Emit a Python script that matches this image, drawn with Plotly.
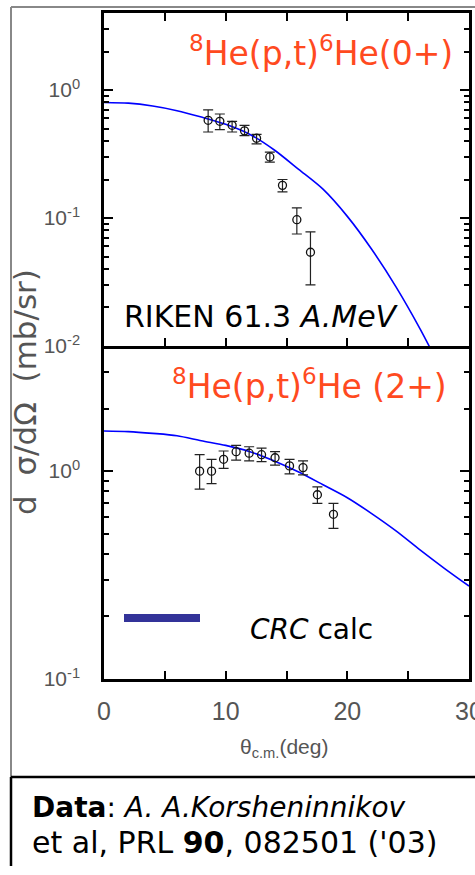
import plotly.graph_objects as go
import math

# ---------------- data ----------------
theta_0p = [8.56, 9.52, 10.53, 11.55, 12.54, 13.63, 14.67, 15.85, 16.97]
xs_0p = [0.58, 0.57, 0.53, 0.48, 0.42, 0.30, 0.18, 0.097, 0.054]
errp_0p = [0.12, 0.08, 0.04, 0.05, 0.03, 0.027, 0.02, 0.023, 0.024]
errm_0p = [0.11, 0.08, 0.06, 0.04, 0.04, 0.027, 0.02, 0.022, 0.024]

theta_2p = [7.86, 8.84, 9.83, 10.86, 11.93, 12.95, 14.06, 15.25, 16.36, 17.54, 18.86]
xs_2p = [1.00, 1.00, 1.14, 1.24, 1.22, 1.20, 1.16, 1.06, 1.04, 0.77, 0.62]
errp_2p = [0.20, 0.14, 0.11, 0.09, 0.09, 0.09, 0.08, 0.08, 0.08, 0.07, 0.08]
errm_2p = [0.18, 0.13, 0.11, 0.11, 0.10, 0.09, 0.09, 0.09, 0.08, 0.07, 0.09]

theta_calc = [0, 2, 4, 6, 8, 10, 12, 14, 16, 18, 20, 22, 24, 26, 28, 30]
calc_0p = [0.80, 0.79, 0.75, 0.69, 0.615, 0.54, 0.45, 0.34, 0.24, 0.168, 0.103,
           0.057, 0.029, 0.0135, 0.0058, 0.0025]
calc_2p = [1.56, 1.55, 1.52, 1.48, 1.40, 1.33, 1.24, 1.12, 0.99, 0.86, 0.745,
           0.625, 0.516, 0.417, 0.34, 0.28]

x_tickvals = [0, 5, 10, 15, 20, 25, 30]
x_ticktext = ["0", "", "10", "", "20", "", "30"]

W, H = 475, 875
def px(x):
    return x / W
def py(y):
    return 1 - y / H

ORANGE = "#FF4A1F"
BLUE = "#0000FF"

fig = go.Figure()

# top panel
fig.add_trace(go.Scatter(x=theta_calc, y=calc_0p, mode="lines",
                         line=dict(color=BLUE, width=1.6, shape="spline", smoothing=0.8),
                         xaxis="x", yaxis="y", showlegend=False))
fig.add_trace(go.Scatter(x=theta_0p, y=xs_0p, mode="markers",
                         marker=dict(symbol="circle-open", size=8, color="#111",
                                     line=dict(width=1.3)),
                         error_y=dict(type="data", symmetric=False, array=errp_0p,
                                      arrayminus=errm_0p, color="#222", thickness=1.2, width=5),
                         xaxis="x", yaxis="y", showlegend=False))
# bottom panel
fig.add_trace(go.Scatter(x=theta_calc, y=calc_2p, mode="lines",
                         line=dict(color=BLUE, width=1.6, shape="spline", smoothing=0.8),
                         xaxis="x2", yaxis="y2", showlegend=False))
fig.add_trace(go.Scatter(x=theta_2p, y=xs_2p, mode="markers",
                         marker=dict(symbol="circle-open", size=8, color="#111",
                                     line=dict(width=1.3)),
                         error_y=dict(type="data", symmetric=False, array=errp_2p,
                                      arrayminus=errm_2p, color="#222", thickness=1.2, width=5),
                         xaxis="x2", yaxis="y2", showlegend=False))

narrow = "Liberation Sans Narrow, Arial Narrow, Liberation Sans, Arial"
tick_font = dict(family=narrow, size=21, color="#555")

def minor_vals(lo, hi):
    vals = []
    for d in range(lo, hi + 1):
        for m in range(2, 10):
            v = m * 10 ** d
            if v < 4.05:
                vals.append(v)
    return vals

xdom = [px(104), px(469)]
common_x = dict(range=[0, 30], domain=xdom, showline=True, linecolor="black", linewidth=2.5,
                ticks="inside", ticklen=8, tickwidth=2, tickcolor="black",
                tickvals=x_tickvals, ticktext=x_ticktext, showgrid=False, zeroline=False,
                ticklabeloverflow="allow", automargin=False,
                tickfont=dict(family=narrow, size=25, color="#555"))
common_y = dict(type="log", showline=True, linecolor="black", linewidth=2.5, mirror="ticks",
                ticks="inside", ticklen=9, tickwidth=2, tickcolor="black", showgrid=False,
                zeroline=False, tickfont=tick_font, ticklabelstandoff=17, automargin=False)

fig.update_layout(
    width=W, height=H, margin=dict(l=0, r=0, t=0, b=0, autoexpand=False),
    paper_bgcolor="white", plot_bgcolor="white",
    xaxis=dict(common_x, anchor="y", showticklabels=False, mirror="ticks"),
    yaxis=dict(common_y, anchor="x", domain=[py(346), py(13)], range=[-2, math.log10(4)],
               tickvals=[0.01, 0.1, 1],
               ticktext=["10<sup>-2</sup>", "10<sup>-1</sup>", "10<sup>0</sup>"],
               minor=dict(tickvals=minor_vals(-2, 0), ticks="inside", ticklen=5,
                          tickwidth=1.5, tickcolor="black", showgrid=False)),
    xaxis2=dict(common_x, anchor="y2", ticklabelstandoff=8, mirror=False),
    yaxis2=dict(common_y, anchor="x2", domain=[py(679), py(346)], range=[-1, math.log10(4)],
                tickvals=[0.1, 1],
                ticktext=["10<sup>-1</sup>", "10<sup>0</sup>"],
                minor=dict(tickvals=minor_vals(-1, 0), ticks="inside", ticklen=5,
                           tickwidth=1.5, tickcolor="black", showgrid=False)),
)

txt_font = "DejaVu Sans, Noto Sans, sans-serif"
ann = [
    dict(text="<sup>8</sup>He(p,t)<sup>6</sup>He(0+)", x=px(455), y=py(52), xanchor="right",
         yanchor="middle", font=dict(family=txt_font, size=33, color=ORANGE)),
    dict(text="RIKEN 61.3 <i>A.MeV</i>", x=px(261), y=py(316), xanchor="center",
         yanchor="middle", font=dict(family=txt_font, size=30, color="black")),
    dict(text="<sup>8</sup>He(p,t)<sup>6</sup>He (2+)", x=px(449), y=py(384), xanchor="right",
         yanchor="middle", font=dict(family=txt_font, size=33, color=ORANGE)),
    dict(text="<i>CRC</i> calc", x=px(248), y=py(629), xanchor="left",
         yanchor="middle", font=dict(family=txt_font, size=28, color="black")),
    dict(text="θ<sub>c.m.</sub>(deg)", x=px(284), y=py(748), xanchor="center",
         yanchor="middle", font=dict(family="Liberation Sans, Arial", size=21, color="#555")),
    dict(text="d  σ/dΩ  (mb/sr)", x=px(25), y=py(392), xanchor="center", yanchor="middle",
         textangle=-90, font=dict(family="DejaVu Sans, Liberation Sans, Arial", size=31, color="#555")),
    dict(text="<b>Data</b>: <i>A. A.Korsheninnikov</i>", x=px(30), y=py(807), xanchor="left",
         yanchor="middle", font=dict(family=txt_font, size=28, color="black")),
    dict(text="et al, PRL <b>90</b>, 082501 ('03)", x=px(30), y=py(842), xanchor="left",
         yanchor="middle", font=dict(family=txt_font, size=30, color="black")),
]
for a in ann:
    a.update(xref="paper", yref="paper", showarrow=False)
fig.update_layout(annotations=ann)

shapes = [
    # gray outer frame
    dict(type="line", x0=px(11), x1=px(480), y0=py(7), y1=py(7), line=dict(color="#888", width=2)),
    dict(type="line", x0=px(11), x1=px(11), y0=py(7), y1=py(777), line=dict(color="#888", width=2)),
    # black box for the reference note
    dict(type="line", x0=px(11), x1=px(480), y0=py(777), y1=py(777), line=dict(color="black", width=2.5)),
    dict(type="line", x0=px(11), x1=px(11), y0=py(777), y1=py(866), line=dict(color="black", width=2.5)),
    # legend sample for CRC calc
    dict(type="line", x0=px(124), x1=px(200), y0=py(618), y1=py(618),
         line=dict(color="#333399", width=8)),
]
for s in shapes:
    s.update(xref="paper", yref="paper", layer="above")
fig.update_layout(shapes=shapes)

fig.write_html("out.html")
